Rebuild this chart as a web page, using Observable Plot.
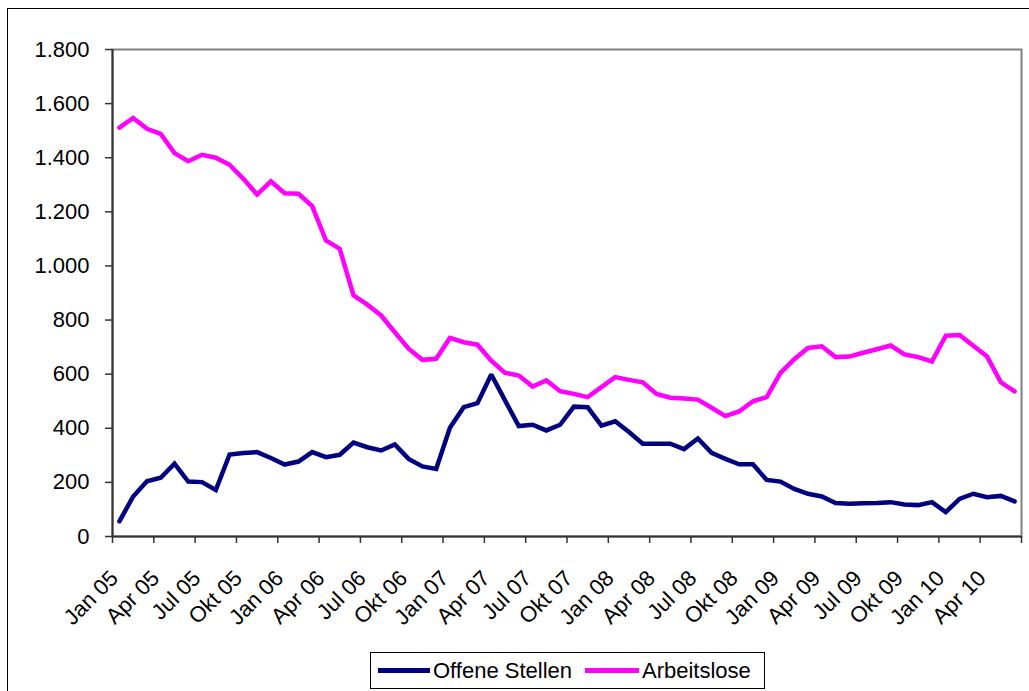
<!DOCTYPE html>
<html>
<head>
<meta charset="utf-8">
<script src="https://cdn.jsdelivr.net/npm/d3@7"></script>
<script src="https://cdn.jsdelivr.net/npm/@observablehq/plot@0.6"></script>
<style>
  html, body { margin: 0; padding: 0; background: #fff; overflow: hidden; width: 1029px; height: 691px; }
  #outer { position: absolute; left: 7px; top: 8px; width: 1040px; height: 700px; border: 1.5px solid #000; box-sizing: border-box; }
  #chart { position: absolute; left: 0; top: 0; }
  #legend { position: absolute; left: 370px; top: 652px; width: 395px; height: 37px; border: 1px solid #000; box-sizing: border-box; background: #fff;
            font-family: "Liberation Sans", Arial, sans-serif; font-size: 22px; color: #000; }
  .item { position: absolute; top: 0; height: 35px; display: flex; align-items: center; }
  .sw { display: inline-block; height: 5px; margin-right: 3px; }
</style>
</head>
<body>
<div id="outer"></div>
<div id="chart"></div>
<div id="legend"></div>
<script>
// Monthly data Jan 2005 – Jun 2010 (Tsd.)
const seriesNames = ["Offene Stellen", "Arbeitslose"];
const seriesColors = ["#000080", "#FF00FF"];
const offeneStellen = [
  56, 148, 204, 217, 269, 203, 201, 172, 303, 309, 312, 290,
  266, 277, 312, 293, 302, 347, 330, 318, 340, 287, 259, 250,
  402, 478, 493, 599, 503, 408, 413, 392, 413, 480, 478, 410,
  426, 386, 343, 343, 343, 323, 362, 309, 287, 267, 267, 209,
  203, 176, 158, 148, 124, 121, 123, 124, 127, 118, 116, 127,
  90, 139, 158, 145, 150, 130
];
const arbeitslose = [
  1511, 1547, 1507, 1488, 1417, 1387, 1411, 1400, 1374, 1322, 1264, 1313,
  1269, 1267, 1221, 1094, 1063, 891, 857, 817, 755, 694, 653, 657,
  734, 718, 709, 650, 605, 595, 554, 577, 537, 527, 515, 552,
  589, 579, 570, 527, 513, 510, 506, 476, 445, 462, 500, 515,
  605, 655, 697, 703, 663, 665, 679, 692, 706, 673, 663, 647,
  742, 745, 705, 665, 570, 536
];
const tickLabels = ["Jan 05","Apr 05","Jul 05","Okt 05","Jan 06","Apr 06","Jul 06","Okt 06",
  "Jan 07","Apr 07","Jul 07","Okt 07","Jan 08","Apr 08","Jul 08","Okt 08",
  "Jan 09","Apr 09","Jul 09","Okt 09","Jan 10","Apr 10"];
const yTicks = [0, 200, 400, 600, 800, 1000, 1200, 1400, 1600, 1800];

const n = offeneStellen.length;
const rows = [];
[offeneStellen, arbeitslose].forEach((arr, s) => arr.forEach((v, i) => rows.push({i, v, s: seriesNames[s]})));

const labelPos = tickLabels.map((_, k) => k * 3);
const boundaryTicks = d3.range(-0.5, n, 3);
const de = d3.formatLocale({decimal: ",", thousands: ".", grouping: [3], currency: ["", "€"]});
const fmt = de.format(",");

const chart = Plot.plot({
  width: 1029,
  height: 640,
  marginLeft: 112,
  marginRight: 8,
  marginTop: 49,
  marginBottom: 104,
  style: {fontFamily: "'Liberation Sans', Arial, sans-serif", fontSize: "22px", color: "#000", background: "transparent", overflow: "visible"},
  x: {domain: [-0.5, n - 0.5]},
  y: {domain: [0, 1800]},
  color: {domain: seriesNames, range: seriesColors},
  marks: [
    Plot.frame({stroke: "#808080", strokeWidth: 2}),
    Plot.axisY({ticks: yTicks, tickFormat: fmt, tickSize: 7, tickPadding: 16, label: null, stroke: "#333", strokeWidth: 1.5}),
    Plot.axisX({ticks: boundaryTicks, tickFormat: () => "", tickSize: 7, label: null, stroke: "#333", strokeWidth: 1.5}),
    Plot.axisX({ticks: labelPos, tickFormat: (d) => tickLabels[d / 3], tickSize: 0, tickPadding: 38, dx: -5, tickRotate: -45, label: null}),
    Plot.ruleX([-0.5], {stroke: "#333", strokeWidth: 2}),
    Plot.ruleY([0], {stroke: "#333", strokeWidth: 2}),
    Plot.line(rows, {x: "i", y: "v", z: "s", stroke: "s", strokeWidth: 4.5, strokeLinejoin: "miter", strokeMiterlimit: 2, strokeLinecap: "round"})
  ]
});
document.getElementById("chart").appendChild(chart);

const legend = document.getElementById("legend");
const itemsPos = [{left: 7, sw: 52}, {left: 214, sw: 54}];
seriesNames.forEach((name, k) => {
  const it = document.createElement("div");
  it.className = "item";
  it.style.left = itemsPos[k].left + "px";
  const sw = document.createElement("span");
  sw.className = "sw";
  sw.style.width = itemsPos[k].sw + "px";
  sw.style.background = seriesColors[k];
  const tx = document.createElement("span");
  tx.textContent = name;
  it.appendChild(sw);
  it.appendChild(tx);
  legend.appendChild(it);
});
</script>
</body>
</html>
